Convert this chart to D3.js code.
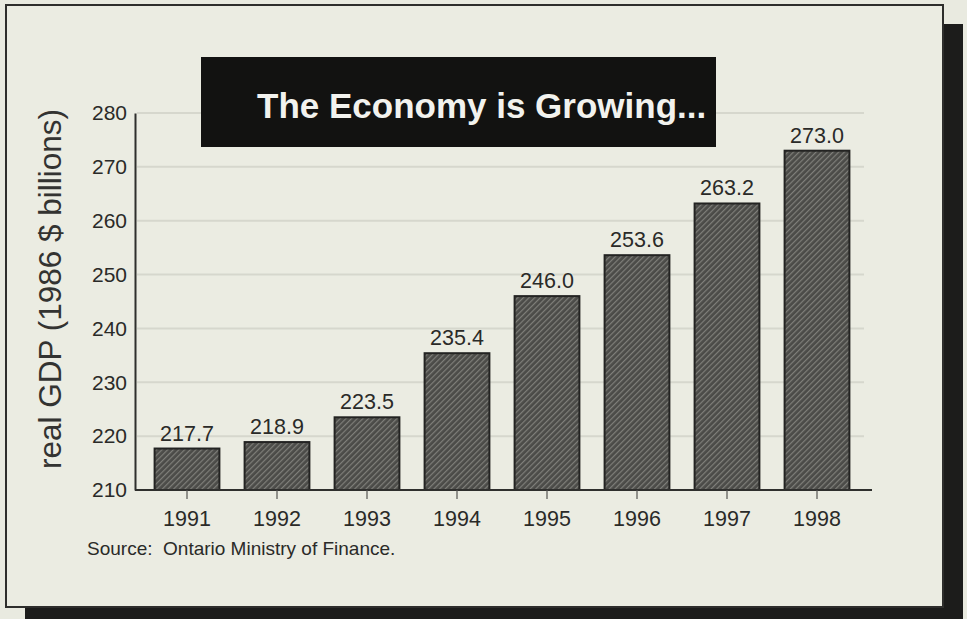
<!DOCTYPE html>
<html>
<head>
<meta charset="utf-8">
<script src="https://cdn.jsdelivr.net/npm/d3@7"></script>
<style>
  html, body { margin: 0; padding: 0; background: #e9eae0; }
  svg { display: block; }
  text { font-family: "Liberation Sans", Arial, Helvetica, sans-serif; }
</style>
</head>
<body>
<svg id="chart" width="967" height="619"></svg>
<script>
// Ontario real GDP, 1986 dollars (billions)
const years = ["1991", "1992", "1993", "1994", "1995", "1996", "1997", "1998"];
const gdp = [217.7, 218.9, 223.5, 235.4, 246.0, 253.6, 263.2, 273.0];
const yTicks = [210, 220, 230, 240, 250, 260, 270, 280];
const titleText = "The Economy is Growing...";
const yLabel = "real GDP (1986 $ billions)";
const sourceText = "Source:  Ontario Ministry of Finance.";

const svg = d3.select("#chart");

// hatched fill for the bars
const defs = svg.append("defs");
const pat = defs.append("pattern")
  .attr("id", "hatch")
  .attr("patternUnits", "userSpaceOnUse")
  .attr("width", 4).attr("height", 4)
  .attr("patternTransform", "rotate(45)");
pat.append("rect").attr("width", 4).attr("height", 4).attr("fill", "#4b4b48");
pat.append("rect").attr("x", 0).attr("y", 0).attr("width", 1.2).attr("height", 4).attr("fill", "#7f7f7a");

// drop shadow and framed panel
svg.append("rect").attr("x", 25).attr("y", 24).attr("width", 938).attr("height", 602).attr("fill", "#1c1c1b");
svg.append("rect").attr("x", 6).attr("y", 5).attr("width", 937).attr("height", 602)
  .attr("fill", "#ebece2").attr("stroke", "#2e2e2c").attr("stroke-width", 2);

const x = d3.scaleBand()
  .domain(years)
  .range([142, 862])
  .paddingInner(0.28)
  .paddingOuter(0.14);

const y = d3.scaleLinear().domain([210, 280]).range([490, 113]);

// horizontal grid
svg.append("g")
  .selectAll("line")
  .data(yTicks.filter(d => d > 210))
  .join("line")
  .attr("x1", 137).attr("x2", 864)
  .attr("y1", d => y(d)).attr("y2", d => y(d))
  .attr("stroke", "#d6d7cd").attr("stroke-width", 2);

// y axis
const yAxis = svg.append("g")
  .attr("transform", "translate(135,0)")
  .call(d3.axisLeft(y).tickValues(yTicks).tickSize(0).tickPadding(8).tickFormat(d3.format("d")));
yAxis.select(".domain").attr("stroke", "#2f2f2d").attr("stroke-width", 2);
yAxis.selectAll("text").attr("font-size", 21).attr("fill", "#2a2a28")
  .attr("font-family", "Liberation Sans, Arial, sans-serif");

// bars
svg.append("g")
  .selectAll("rect")
  .data(gdp)
  .join("rect")
  .attr("x", (d, i) => x(years[i]))
  .attr("y", d => y(d))
  .attr("width", x.bandwidth())
  .attr("height", d => y(210) - y(d))
  .attr("fill", "url(#hatch)")
  .attr("stroke", "#232322").attr("stroke-width", 2);

// value labels
svg.append("g")
  .selectAll("text")
  .data(gdp)
  .join("text")
  .attr("x", (d, i) => x(years[i]) + x.bandwidth() / 2)
  .attr("y", d => y(d) - 8)
  .attr("text-anchor", "middle")
  .attr("font-size", 21.5)
  .attr("fill", "#2a2a28")
  .text(d => d.toFixed(1));

// x axis
const xAxis = svg.append("g")
  .attr("transform", "translate(0,490)")
  .call(d3.axisBottom(x).tickSize(9).tickPadding(12).tickSizeOuter(0));
xAxis.select(".domain").attr("d", "M135,0H872").attr("stroke", "#2f2f2d").attr("stroke-width", 2);
xAxis.selectAll(".tick line").attr("stroke", "#555552").attr("stroke-width", 1.2);
xAxis.selectAll("text").attr("font-size", 21.5).attr("fill", "#2a2a28")
  .attr("font-family", "Liberation Sans, Arial, sans-serif")
  .attr("dy", "0.71em");

// y axis title
svg.append("text")
  .attr("transform", "translate(61,289) rotate(-90)")
  .attr("text-anchor", "middle")
  .attr("font-size", 31.5)
  .attr("fill", "#333331")
  .text(yLabel);

// title banner
svg.append("rect").attr("x", 201).attr("y", 57).attr("width", 515).attr("height", 90).attr("fill", "#121211");
svg.append("text")
  .attr("x", 257).attr("y", 118)
  .attr("font-size", 35)
  .attr("font-weight", "bold")
  .attr("fill", "#f2f2ee")
  .text(titleText);

// source note
svg.append("text")
  .attr("x", 87).attr("y", 555)
  .attr("font-size", 19)
  .attr("fill", "#2a2a28")
  .style("white-space", "pre")
  .text(sourceText);
</script>
</body>
</html>
